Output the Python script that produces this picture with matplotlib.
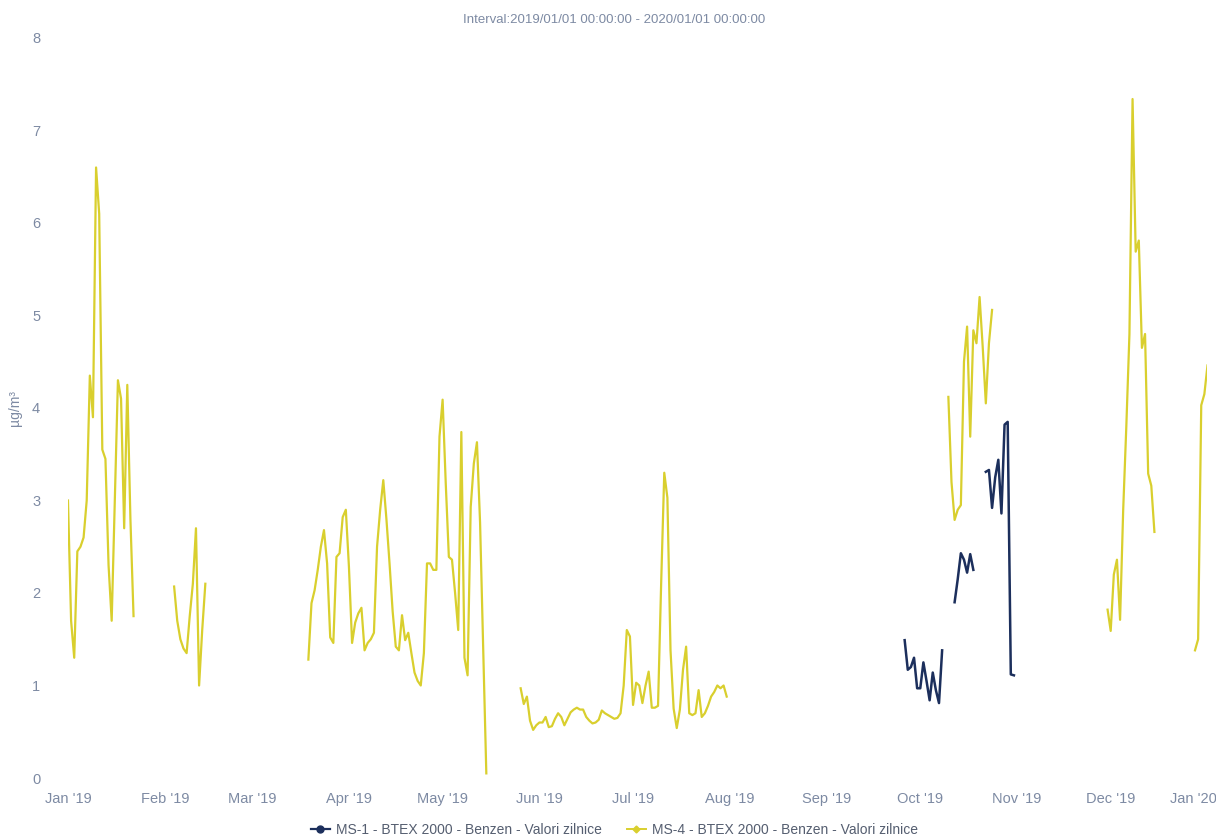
import matplotlib
matplotlib.use("Agg")
import matplotlib.pyplot as plt
import matplotlib.dates as mdates
import matplotlib.transforms as mtransforms
from matplotlib.lines import Line2D
import pandas as pd

# MS-4 daily benzene values, one list per continuous run of data
ms4_jan_start = "2019-01-01"
ms4_jan = [3.0, 1.7, 1.3, 2.45, 2.5, 2.6, 3.0, 4.35, 3.9, 6.6, 6.1, 3.55, 3.45, 2.3,
           1.7, 3.0, 4.3, 4.1, 2.7, 4.25, 2.8, 1.75]

ms4_feb_start = "2019-02-04"
ms4_feb = [2.07, 1.7, 1.5, 1.4, 1.35, 1.75, 2.1, 2.7, 1.0, 1.6, 2.1]

ms4_spring_start = "2019-03-19"
ms4_spring = [1.28, 1.89, 2.03, 2.25, 2.5, 2.68, 2.32, 1.52, 1.46, 2.39, 2.43, 2.82,
              2.9, 2.28, 1.46, 1.68, 1.78, 1.84, 1.38, 1.46, 1.5, 1.57, 2.5, 2.9,
              3.22, 2.8, 2.32, 1.8, 1.42, 1.38, 1.76, 1.49, 1.57, 1.35, 1.14,
              1.05, 1.0, 1.35, 2.32, 2.32, 2.25, 2.25, 3.69, 4.09, 3.19, 2.39, 2.36,
              2.0, 1.6, 3.74, 1.3, 1.11, 2.93, 3.4, 3.63, 2.76, 1.4, 0.05]

ms4_summer_start = "2019-05-26"
ms4_summer = [0.97, 0.8, 0.88, 0.62, 0.52, 0.57, 0.6, 0.6, 0.66, 0.55, 0.56,
              0.64, 0.7, 0.66, 0.57, 0.64, 0.71, 0.74, 0.76, 0.74, 0.74, 0.66, 0.62,
              0.59, 0.6, 0.63, 0.73, 0.7, 0.68, 0.66, 0.64, 0.65, 0.7, 1.0, 1.6,
              1.53, 0.79, 1.03, 1.0, 0.81, 1.0, 1.15, 0.76, 0.76, 0.78, 2.1, 3.3,
              3.03, 1.38, 0.75, 0.54, 0.74, 1.17, 1.42, 0.7, 0.68, 0.7, 0.95, 0.66,
              0.7, 0.78, 0.88, 0.93, 1.0, 0.97, 1.0, 0.88]

ms4_oct_start = "2019-10-10"
ms4_oct = [4.12, 3.2, 2.79, 2.9, 2.95, 4.5, 4.88, 3.69, 4.84, 4.7, 5.2, 4.66, 4.05,
           4.7, 5.06]

ms4_dec_start = "2019-11-30"
ms4_dec = [1.82, 1.59, 2.2, 2.36, 1.71, 2.9, 3.8, 4.8, 7.34, 5.69, 5.81, 4.65, 4.8,
           3.29, 3.16, 2.66]

ms4_end_start = "2019-12-28"
ms4_end = [1.38, 1.5, 4.03, 4.15, 4.46]

# MS-1 daily benzene values
ms1_a_start = "2019-09-26"
ms1_a = [1.49, 1.17, 1.2, 1.3, 0.97, 0.97, 1.25, 1.05, 0.84, 1.14, 0.95, 0.81, 1.38]

ms1_b_start = "2019-10-12"
ms1_b = [1.9, 2.15, 2.43, 2.36, 2.22, 2.42, 2.25]

ms1_c_start = "2019-10-22"
ms1_c = [3.31, 3.33, 2.92, 3.25, 3.44, 2.86, 3.82, 3.85, 1.12, 1.11]

ms4_runs = [(ms4_jan_start, ms4_jan), (ms4_feb_start, ms4_feb),
            (ms4_spring_start, ms4_spring), (ms4_summer_start, ms4_summer),
            (ms4_oct_start, ms4_oct), (ms4_dec_start, ms4_dec),
            (ms4_end_start, ms4_end)]
ms1_runs = [(ms1_a_start, ms1_a), (ms1_b_start, ms1_b), (ms1_c_start, ms1_c)]

label_ms1 = "MS-1 - BTEX 2000 - Benzen - Valori zilnice"
label_ms4 = "MS-4 - BTEX 2000 - Benzen - Valori zilnice"
title = "Interval:2019/01/01 00:00:00 - 2020/01/01 00:00:00"

color_ms1 = "#1c2f5c"
color_ms4 = "#d9cf2e"
text_color = "#7d8aa3"

plt.rcParams["font.family"] = ["Liberation Sans", "DejaVu Sans"]

fig = plt.figure(figsize=(12.16, 8.4), dpi=100)
ax = fig.add_axes([0.0559, 0.0738, 0.9371, 0.881])


def to_series(start, values):
    idx = pd.date_range(start, periods=len(values), freq="D")
    return pd.Series(values, index=idx)


for start, vals in ms4_runs:
    s = to_series(start, vals)
    ax.plot(s.index, s.values, color=color_ms4, linewidth=1.6)

for start, vals in ms1_runs:
    s = to_series(start, vals)
    ax.plot(s.index, s.values, color=color_ms1, linewidth=1.8)

ax.set_xlim(pd.Timestamp("2019-01-01"), pd.Timestamp("2020-01-01"))
ax.set_ylim(0, 8)
ax.set_yticks(range(0, 9))

ax.xaxis.set_major_locator(mdates.MonthLocator())
ax.xaxis.set_major_formatter(mdates.DateFormatter("%b '%y"))

for side in ["top", "right", "left", "bottom"]:
    ax.spines[side].set_visible(False)
ax.tick_params(axis="both", length=0, colors=text_color, labelsize=10.5)
ax.tick_params(axis="x", pad=10)
ax.tick_params(axis="y", pad=20)

# keep the last month label inside the figure, as in the original
last = ax.get_xticklabels()[-1]
last.set_horizontalalignment("right")
last.set_transform(last.get_transform() + mtransforms.ScaledTranslation(0.09, 0, fig.dpi_scale_trans))

ax.set_ylabel("µg/m³", color=text_color, fontsize=10)
ax.yaxis.set_label_coords(-0.04, 0.5)

fig.text(0.505, 0.976, title, ha="center", va="center", color=text_color, fontsize=9.5)

handles = [Line2D([], [], color=color_ms1, marker="o", markersize=5, linewidth=1.6),
           Line2D([], [], color=color_ms4, marker="D", markersize=3.5, linewidth=1.4)]
fig.legend(handles, [label_ms1, label_ms4], loc="center", bbox_to_anchor=(0.505, 0.012),
           ncol=2, frameon=False, fontsize=10, handlelength=1.4, handletextpad=0.4,
           columnspacing=1.8, labelcolor="#555e70")

fig.savefig("out.png", dpi=100, facecolor="white")
